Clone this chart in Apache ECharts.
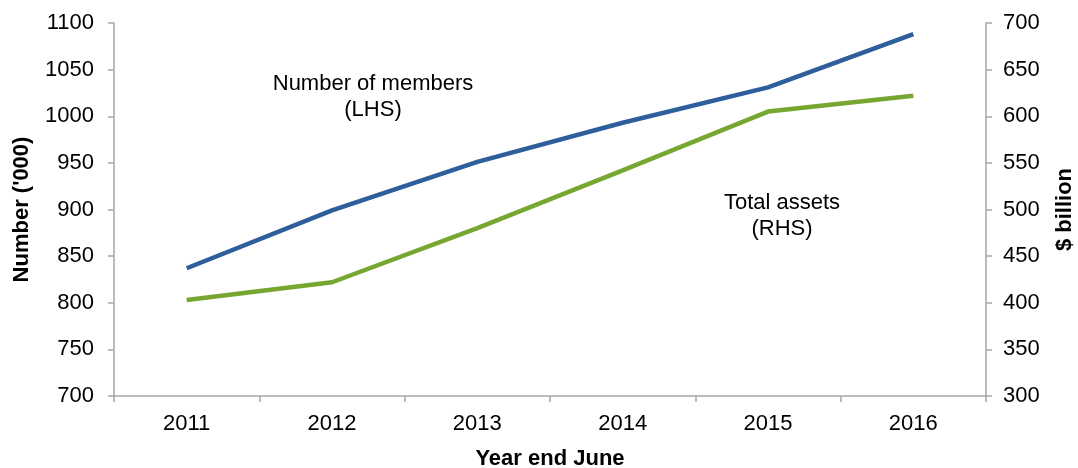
<!DOCTYPE html>
<html>
<head>
<meta charset="utf-8">
<script src="https://cdn.jsdelivr.net/npm/echarts@6/dist/echarts.min.js"></script>
<style>
  html, body { margin: 0; padding: 0; background: #fff; }
  #chart { width: 1078px; height: 468px; }
</style>
</head>
<body>
<div id="chart"></div>
<script>
// data
const years = ["2011", "2012", "2013", "2014", "2015", "2016"];
const members = [837, 899, 951, 993, 1031, 1088];   // '000, LHS
const assets = [403, 422, 480, 542, 605, 622];      // $ billion, RHS

const FONT = "Liberation Sans, Arial, sans-serif";
const AXIS_GREY = "#a6a6a6";
const FS = 22;

const nameStyle = { fontFamily: FONT, fontSize: FS, fontWeight: "bold", color: "#000" };
const labelStyle = (margin) => ({
  fontFamily: FONT,
  fontSize: FS,
  color: "#000",
  margin,
  formatter: (v) => String(v), // no thousands separator
});

const chart = echarts.init(document.getElementById("chart"), null, { renderer: "canvas" });

chart.setOption({
  animation: false,
  textStyle: { fontFamily: FONT, color: "#000" },
  // fixed plot box, don't let v6 shrink it for the labels
  grid: { left: 114, right: 92, top: 23, bottom: 72, outerBoundsMode: "none", containLabel: false },
  xAxis: {
    type: "category",
    data: years,
    boundaryGap: true,
    name: "Year end June",
    nameLocation: "middle",
    nameGap: 52,
    nameTextStyle: nameStyle,
    axisLine: { lineStyle: { color: AXIS_GREY, width: 1.5 } },
    axisTick: { show: true, length: 6, lineStyle: { color: AXIS_GREY, width: 1.5 } },
    axisLabel: { fontFamily: FONT, fontSize: FS, color: "#000", margin: 17 },
  },
  // left axis: members, right axis: assets
  yAxis: [
    {
      type: "value",
      min: 700,
      max: 1100,
      interval: 50,
      name: "Number ('000)",
      nameLocation: "middle",
      nameRotate: 90,
      nameGap: 81,
      nameTextStyle: nameStyle,
      axisLine: { show: true, lineStyle: { color: AXIS_GREY, width: 1.5 } },
      axisTick: { show: true, length: 6, lineStyle: { color: AXIS_GREY, width: 1.5 } },
      axisLabel: labelStyle(20),
      splitLine: { show: false },
    },
    {
      type: "value",
      min: 300,
      max: 700,
      interval: 50,
      position: "right",
      name: "$ billion",
      nameLocation: "middle",
      nameRotate: 90,
      nameGap: 68,
      nameTextStyle: nameStyle,
      axisLine: { show: true, lineStyle: { color: AXIS_GREY, width: 1.5 } },
      axisTick: { show: true, length: 6, lineStyle: { color: AXIS_GREY, width: 1.5 } },
      axisLabel: labelStyle(17),
      splitLine: { show: false },
    },
  ],
  // series annotations
  graphic: [
    {
      type: "text",
      x: 373,
      y: 71,
      style: {
        text: "Number of members\n(LHS)",
        font: FS + "px " + FONT,
        fill: "#000",
        lineHeight: 26,
        textAlign: "center",
      },
    },
    {
      type: "text",
      x: 782,
      y: 190,
      style: {
        text: "Total assets\n(RHS)",
        font: FS + "px " + FONT,
        fill: "#000",
        lineHeight: 26,
        textAlign: "center",
      },
    },
  ],
  series: [
    {
      name: "Number of members",
      type: "line",
      yAxisIndex: 0,
      data: members,
      symbol: "none",
      lineStyle: { color: "#2e5e9c", width: 4.5 },
    },
    {
      name: "Total assets",
      type: "line",
      yAxisIndex: 1,
      data: assets,
      symbol: "none",
      lineStyle: { color: "#77a631", width: 4.5 },
    },
  ],
});
</script>
</body>
</html>
